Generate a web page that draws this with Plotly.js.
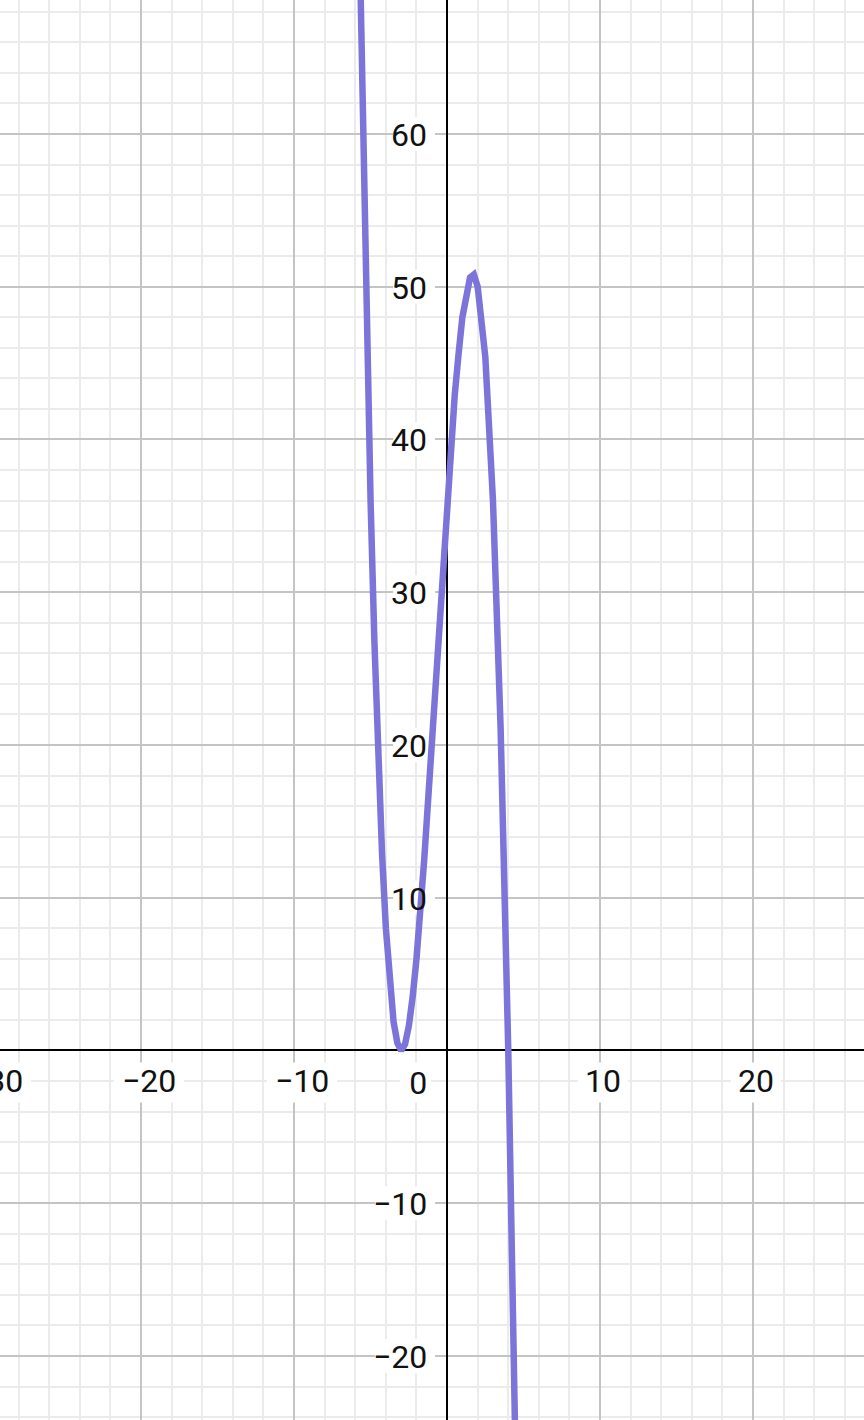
<!DOCTYPE html>
<html><head><meta charset="utf-8">
<script src="https://cdn.plot.ly/plotly-3.0.1.min.js"></script>
<style>html,body{margin:0;padding:0;background:#fff}#chart{width:864px;height:1420px}</style>
</head><body><div id="chart"></div>
<script>
// Curve points
const curveX = [-5.8, -5.5, -5.25, -5.0, -4.75, -4.5, -4.25, -4.0, -3.75, -3.5, -3.25, -3.0, -2.75, -2.5, -2.25, -2.0, -1.5, -1.0, -0.5, 0.0, 0.5, 0.75, 1.0, 1.5, 1.75, 2.0, 2.5, 3.0, 3.5, 4.0, 4.5];
const curveY = [76.8, 59.4, 46.8, 36.0, 26.8, 19.1, 12.9, 8.0, 4.4, 1.9, 0.5, 0.0, 0.4, 1.6, 3.5, 6.0, 12.4, 20.0, 28.1, 36.0, 42.9, 45.6, 48.0, 50.6, 50.8, 50.0, 45.4, 36.0, 21.1, 0.0, -28.1];

// Tick labels
const xTickValues = [-30, -20, -10, 10, 20];
const xTickLabels = ['\u221230', '\u221220', '\u221210', '10', '20'];
const originValue = [0];
const originLabel = ['0'];
const yTickValues = [60, 50, 40, 30, 20, 10, -10, -20];
const yTickLabels = ['60', '50', '40', '30', '20', '10', '\u221210', '\u221220'];

const FONT = 'Roboto, "Noto Sans", Arial, sans-serif';
const FS = 32;
const XRANGE = [-29.22, 27.25];
const PX_PER_UNIT = 864 / (XRANGE[1] - XRANGE[0]);
const NEG_NUDGE_PX = 8;  // negative labels sit a little right of their ticks
const POS_NUDGE_PX = 3;

const curveTrace = {
  x: curveX, y: curveY, mode: 'lines', type: 'scatter',
  line: {color: '#7c74d8', width: 6.5},
  hoverinfo: 'skip', cliponaxis: true
};

function labelTrace(filterFn, axis) {
  const idx = xTickValues.map((v, i) => i).filter(i => filterFn(xTickValues[i]));
  return {
    x: idx.map(i => xTickValues[i]), y: idx.map(() => 0), type: 'scatter', xaxis: axis,
    mode: 'markers+text', text: idx.map(i => xTickLabels[i]), textposition: 'bottom center',
    textfont: {family: FONT, size: FS, color: '#111'},
    marker: {size: 27, color: 'rgba(0,0,0,0)'},
    hoverinfo: 'skip', cliponaxis: true
  };
}
const negLabelTrace = labelTrace(v => v < 0, 'x2');
const posLabelTrace = labelTrace(v => v > 0, 'x3');

const originLabelTrace = {
  x: originValue, y: originValue, type: 'scatter',
  mode: 'markers+text', text: originLabel, textposition: 'bottom left',
  textfont: {family: FONT, size: FS, color: '#111'},
  marker: {size: 30, color: 'rgba(0,0,0,0)'},
  hoverinfo: 'skip', cliponaxis: true
};

const shapes = [];
xTickValues.forEach((v, i) => {
  const hw = xTickLabels[i].length * 10 + 5;
  const off = v < 0 ? NEG_NUDGE_PX : POS_NUDGE_PX;
  shapes.push({
    type: 'rect', layer: 'between', xref: 'x', yref: 'y',
    xsizemode: 'pixel', ysizemode: 'pixel', xanchor: v, yanchor: 0,
    x0: -hw + off, x1: hw + off, y0: -52, y1: -12,
    fillcolor: '#ffffff', line: {width: 0}
  });
});
originValue.forEach(v => {
  shapes.push({
    type: 'rect', layer: 'between', xref: 'x', yref: 'y',
    xsizemode: 'pixel', ysizemode: 'pixel', xanchor: v, yanchor: 0,
    x0: -47, x1: -16, y0: -52, y1: -12,
    fillcolor: '#ffffff', line: {width: 0}
  });
});
yTickValues.forEach((v, i) => {
  const w = yTickLabels[i].length * 18;
  shapes.push({
    type: 'rect', layer: 'between', xref: 'x', yref: 'y',
    xsizemode: 'pixel', ysizemode: 'pixel', xanchor: 0, yanchor: v,
    x0: -w - 18, x1: -12, y0: -17, y1: 17,
    fillcolor: '#ffffff', line: {width: 0}
  });
});

const annotations = yTickValues.map((v, i) => ({
  x: 0, y: v, xref: 'x', yref: 'y', text: yTickLabels[i], showarrow: false,
  xanchor: 'right', yanchor: 'middle', xshift: -18, yshift: -1,
  font: {family: FONT, size: FS, color: '#111'}
}));

const axisCommon = {
  showgrid: true, gridcolor: '#c4c4c4', gridwidth: 2,
  tick0: 0, dtick: 10,
  minor: {tick0: 0, dtick: 2, showgrid: true, gridcolor: '#ebebeb', gridwidth: 2},
  zeroline: true, zerolinecolor: '#000000', zerolinewidth: 2,
  showticklabels: false, ticks: '', showline: false, fixedrange: true
};

function shiftedRange(px) {
  const d = px / PX_PER_UNIT;
  return [XRANGE[0] - d, XRANGE[1] - d];
}

const layout = {
  width: 864, height: 1420,
  margin: {l: 0, r: 0, t: 0, b: 0, pad: 0},
  paper_bgcolor: '#ffffff', plot_bgcolor: '#ffffff',
  showlegend: false,
  xaxis: Object.assign({}, axisCommon, {range: XRANGE}),
  xaxis2: {overlaying: 'x', visible: false, fixedrange: true, range: shiftedRange(NEG_NUDGE_PX)},
  xaxis3: {overlaying: 'x', visible: false, fixedrange: true, range: shiftedRange(POS_NUDGE_PX)},
  yaxis: Object.assign({}, axisCommon, {range: [-24.19, 68.77]}),
  shapes: shapes,
  annotations: annotations
};

Plotly.newPlot('chart', [curveTrace, negLabelTrace, posLabelTrace, originLabelTrace], layout, {displayModeBar: false, staticPlot: true});
</script>
</body></html>
